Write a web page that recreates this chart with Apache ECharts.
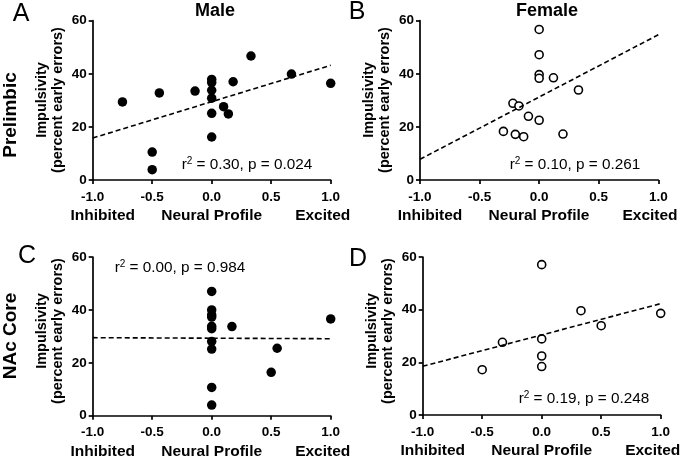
<!DOCTYPE html>
<html><head><meta charset="utf-8">
<script src="https://cdn.jsdelivr.net/npm/echarts@6/dist/echarts.min.js"></script>
<style>html,body{margin:0;padding:0;background:#fff}#c{width:685px;height:459px}</style>
</head><body><div id="c"></div>
<script>
// ---- data ----
const xTicks = [-1, -0.5, 0, 0.5, 1];
const yTicks = [0, 20, 40, 60];
// Panel A: Prelimbic, Male
const plMaleX = [-0.75, -0.44, -0.5, -0.5, -0.14, 0, 0, 0, 0, 0, 0, 0.1, 0.14, 0.18, 0.33, 0.67, 1.0];
const plMaleY = [29.4, 32.8, 10.5, 3.9, 33.5, 37.9, 36.7, 33.8, 30.8, 25.1, 16.2, 27.6, 24.9, 37.0, 46.7, 39.9, 36.4];
const plMaleFitX = [-1, 1];
const plMaleFitY = [15.8, 43.2];
// Panel B: Prelimbic, Female
const plFemaleX = [0, 0, 0, 0, 0.12, 0.33, -0.22, -0.17, -0.09, 0, -0.3, -0.2, -0.13, 0.2];
const plFemaleY = [56.7, 47.2, 39.7, 38.3, 38.5, 33.9, 28.9, 27.9, 24.0, 22.5, 18.3, 17.2, 16.3, 17.3];
const plFemaleFitX = [-1, 1];
const plFemaleFitY = [7.8, 54.7];
// Panel C: NAc Core, Male
const nacMaleX = [0, 0, 0, 0, 0, 0, 0, 0, 0, 0, 0.17, 1.0, 0.55, 0.5];
const nacMaleY = [47.0, 40.0, 38.1, 37.3, 33.8, 32.9, 28.1, 25.2, 10.7, 4.0, 33.7, 36.6, 25.5, 16.4];
const nacMaleFitX = [-1, 1];
const nacMaleFitY = [29.5, 29.1];
// Panel D: NAc Core, Female
const nacFemaleX = [0, 0, 0, 0, -0.33, -0.5, 0.33, 0.5, 1.0];
const nacFemaleY = [57.1, 28.9, 22.4, 18.4, 27.6, 17.2, 39.6, 33.9, 38.6];
const nacFemaleFitX = [-1, 1];
const nacFemaleFitY = [18.5, 42.3];
const statR2 = ['0.30', '0.10', '0.00', '0.19'];
const statP = ['0.024', '0.261', '0.984', '0.248'];
const panelLetters = ['A', 'B', 'C', 'D'];
const colTitles = ['Male', 'Female'];
const rowTitles = ['Prelimbic', 'NAc Core'];

// ---- layout ----
const FONT = '"Liberation Sans", Arial, sans-serif';
const grids = [
  {left: 92.7, top: 20.7, width: 238, height: 159.3},
  {left: 420, top: 20.7, width: 238.3, height: 159.3},
  {left: 92.7, top: 257, width: 238, height: 158.7},
  {left: 422.7, top: 257, width: 238, height: 158}
];
const panels = [
  {x: plMaleX, y: plMaleY, fx: plMaleFitX, fy: plMaleFitY, open: false},
  {x: plFemaleX, y: plFemaleY, fx: plFemaleFitX, fy: plFemaleFitY, open: true},
  {x: nacMaleX, y: nacMaleY, fx: nacMaleFitX, fy: nacMaleFitY, open: false},
  {x: nacFemaleX, y: nacFemaleY, fx: nacFemaleFitX, fy: nacFemaleFitY, open: true}
];
const zip = (a, b) => a.map((v, i) => [v, b[i]]);

const tickRich = {t: {color: '#000', fontFamily: FONT, fontWeight: 'bold', fontSize: 13.5}};
const axisCommon = {
  axisLine: {show: true, onZero: false, lineStyle: {color: '#000', width: 1.7}},
  axisTick: {show: true, inside: false, length: 4, lineStyle: {color: '#000', width: 1.7}},
  splitLine: {show: false}
};
const xAxes = grids.map((g, i) => Object.assign({}, axisCommon, {
  gridIndex: i, type: 'value', min: xTicks[0], max: xTicks[xTicks.length - 1], interval: 0.5,
  axisLabel: {color: '#000', fontFamily: FONT, fontWeight: 'bold', fontSize: 13.5, margin: 10,
    rich: tickRich, formatter: v => '{t|' + v.toFixed(1) + '}'}
}));
const yAxes = grids.map((g, i) => Object.assign({}, axisCommon, {
  gridIndex: i, type: 'value', min: yTicks[0], max: yTicks[yTicks.length - 1], interval: 20,
  axisLabel: {color: '#000', fontFamily: FONT, fontWeight: 'bold', fontSize: 13.5, margin: 6,
    rich: tickRich, formatter: v => '{t|' + v + '}'}
}));
const series = [];
panels.forEach((p, i) => {
  series.push({
    type: 'line', xAxisIndex: i, yAxisIndex: i, data: zip(p.fx, p.fy), symbol: 'none',
    lineStyle: {color: '#000', width: 1.6, type: [5, 3]}, silent: true, animation: false
  });
  series.push({
    type: 'scatter', xAxisIndex: i, yAxisIndex: i, data: zip(p.x, p.y), clip: false,
    symbol: 'circle', symbolSize: p.open ? 8 : 9.5,
    itemStyle: p.open ? {color: '#fff', borderColor: '#000', borderWidth: 1.6, opacity: 1}
                      : {color: '#000', opacity: 1},
    animation: false
  });
});

const graphic = [];
const txt = (x, y, text, size, weight, opts) => graphic.push(Object.assign({
  type: 'text', x: x, y: y,
  style: {text: text, fill: '#000', font: (weight || 'normal') + ' ' + size + 'px ' + FONT,
    align: 'center', verticalAlign: 'middle'}
}, opts || {}));
// panel letters
const letterPos = [[21, 14], [357, 12], [27, 256], [358, 259]];
letterPos.forEach((p, i) => txt(p[0], p[1], panelLetters[i], 25, 'normal'));
// column titles
txt(215, 11, colTitles[0], 18, 'bold');
txt(547, 11, colTitles[1], 18, 'bold');
// row titles
txt(11, 115, rowTitles[0], 19, 'bold', {rotation: Math.PI / 2});
txt(11, 336, rowTitles[1], 19, 'bold', {rotation: Math.PI / 2});
// y-axis titles
const yTitleY = [100, 100, 331, 331];
grids.forEach((g, i) => {
  graphic.push({type: 'text', x: g.left - 43, y: yTitleY[i], rotation: Math.PI / 2,
    style: {text: 'Impulsivity\n(percent early errors)', fill: '#000', font: 'bold 14.5px ' + FONT,
      align: 'center', verticalAlign: 'middle', lineHeight: 16}});
  const by = g.top + g.height + 36;
  txt(g.left + 10, by, 'Inhibited', 15.5, 'bold');
  txt(g.left + 119, by, 'Neural Profile', 15.5, 'bold');
  txt(g.left + 230, by, 'Excited', 15.5, 'bold');
});
// stats annotations (r with superscript 2)
const statPos = [[247, 165], [575, 165], [180, 268], [584, 399]];
statPos.forEach((p, i) => graphic.push({
  type: 'text', x: p[0], y: p[1],
  style: {
    text: '{a|r}{s|2}{a| = ' + statR2[i] + ', p = ' + statP[i] + '}',
    align: 'center', verticalAlign: 'middle',
    rich: {
      a: {fill: '#000', font: '15.3px ' + FONT, lineHeight: 18},
      s: {fill: '#000', font: '10px ' + FONT, verticalAlign: 'top', padding: [0, 0, 6, 0], lineHeight: 18}
    }
  }
}));

const chart = echarts.init(document.getElementById('c'), null, {renderer: 'canvas'});
chart.setOption({
  animation: false,
  backgroundColor: '#fff',
  textStyle: {fontFamily: FONT},
  grid: grids.map(g => Object.assign({containLabel: false}, g)),
  xAxis: xAxes, yAxis: yAxes, series: series, graphic: graphic
});
</script></body></html>
